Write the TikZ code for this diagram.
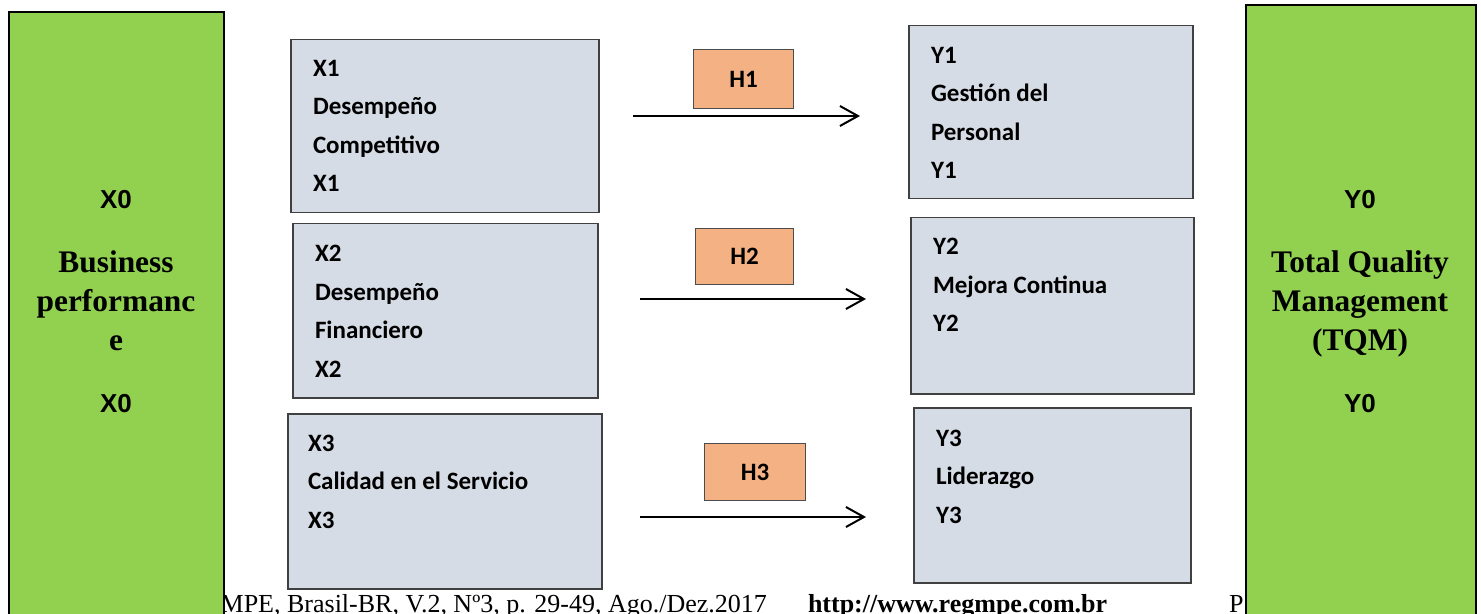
\documentclass[tikz,border=0pt]{standalone}
\usepackage{fontspec}
\setmainfont{Liberation Serif}
\newfontfamily\calibri{Carlito}
\newfontfamily\arialf{Liberation Sans}
\usepackage{xcolor}
\usetikzlibrary{arrows.meta}
\definecolor{tqmgreen}{HTML}{92D050}
\definecolor{varfill}{HTML}{D6DCE5}
\definecolor{hypfill}{HTML}{F4B183}

\tikzset{
  mainvar/.style={draw=black, line width=1pt, fill=tqmgreen, anchor=north west, inner sep=0pt, minimum height=320pt},
  subvar/.style={draw=black!75, line width=0.75pt, fill=varfill, anchor=north west, inner sep=0pt},
  hyp/.style={draw=black!70, line width=0.6pt, fill=hypfill, anchor=north west, inner sep=0pt, font=\calibri\bfseries\fontsize{12.5}{15}\selectfont},
  vartext/.style={anchor=base west, align=left, inner sep=0pt, font=\calibri\bfseries\fontsize{12.5}{19.25}\selectfont},
  maintext/.style={anchor=base, align=center, inner sep=0pt, font=\bfseries\fontsize{15.7}{19.5}\selectfont},
  foot/.style={anchor=base west, inner sep=0pt, font=\fontsize{13}{15}\selectfont}
}

\begin{document}
\begin{tikzpicture}[x=0.5pt,y=-0.5pt,>={Straight Barb[length=9pt,width=10pt]},line width=1pt]
  \useasboundingbox (0,0) rectangle (1481,614);

  % footer line of the page, partly under the green boxes
  \node [foot, anchor=base east] (footl) at (768,612) {MPE, Brasil-BR, V.2, Nº3, p. 29-49, Ago./Dez.2017};
  \node [foot, font=\bfseries\fontsize{13}{15}\selectfont] (footm) at (807,612) {http://www.regmpe.com.br};
  \node [foot] (footr) at (1228,612) {P};

  \node [mainvar, minimum width=107.5pt] (X0) at (8,11) {};
  \node [mainvar, minimum width=115pt] (Y0) at (1245,4) {};
  \node [maintext] (X0t) at (116,412) {{\arialf\fontsize{13}{15}\selectfont X0}\\[12.5pt] Business\\ performanc\\ e\\[11.5pt] {\arialf\fontsize{13}{15}\selectfont X0}};
  \node [maintext] (Y0t) at (1360,412) {{\arialf\fontsize{13}{15}\selectfont Y0}\\[12.5pt] Total Quality\\ Management\\ (TQM)\\[11.5pt] {\arialf\fontsize{13}{15}\selectfont Y0}};

  \node [subvar, minimum width=154pt, minimum height=86.5pt] (X1) at (290,39) {};
  \node [subvar, minimum width=152.5pt, minimum height=87pt] (X2) at (292,223) {};
  \node [subvar, minimum width=157pt, minimum height=87.5pt] (X3) at (287,413) {};
  \node [subvar, minimum width=142pt, minimum height=86.5pt] (Y1) at (908,25) {};
  \node [subvar, minimum width=141.5pt, minimum height=88pt] (Y2) at (910,217) {};
  \node [subvar, minimum width=138.5pt, minimum height=87.5pt] (Y3) at (913,407) {};

  % texts hang on the baseline of their last line
  \node [vartext] (X1t) at (312,192) {X1\\ Desempeño\\ Competitivo\\ X1};
  \node [vartext] (X2t) at (314,377) {X2\\ Desempeño\\ Financiero\\ X2};
  \node [vartext] (X3t) at (307,528) {X3\\ Calidad en el Servicio\\ X3};
  \node [vartext] (Y1t) at (930,179) {Y1\\ Gestión del\\ Personal\\ Y1};
  \node [vartext] (Y2t) at (932,332) {Y2\\ Mejora Continua\\ Y2};
  \node [vartext] (Y3t) at (935,523) {Y3\\ Liderazgo\\ Y3};

  \node [hyp, minimum width=50pt, minimum height=29.5pt] (H1) at (693,49) {H1};
  \node [hyp, minimum width=49pt, minimum height=28pt] (H2) at (695,228) {H2};
  \node [hyp, minimum width=50.5pt, minimum height=28.5pt] (H3) at (704,443) {H3};

  \coordinate (h1s) at (633,116);  \coordinate (h1e) at (860,116);
  \coordinate (h2s) at (640,299);  \coordinate (h2e) at (866,299);
  \coordinate (h3s) at (640,517);  \coordinate (h3e) at (866,517);
  \path (h1s) edge[->] (h1e);
  \path (h2s) edge[->] (h2e);
  \path (h3s) edge[->] (h3e);
\end{tikzpicture}
\end{document}
